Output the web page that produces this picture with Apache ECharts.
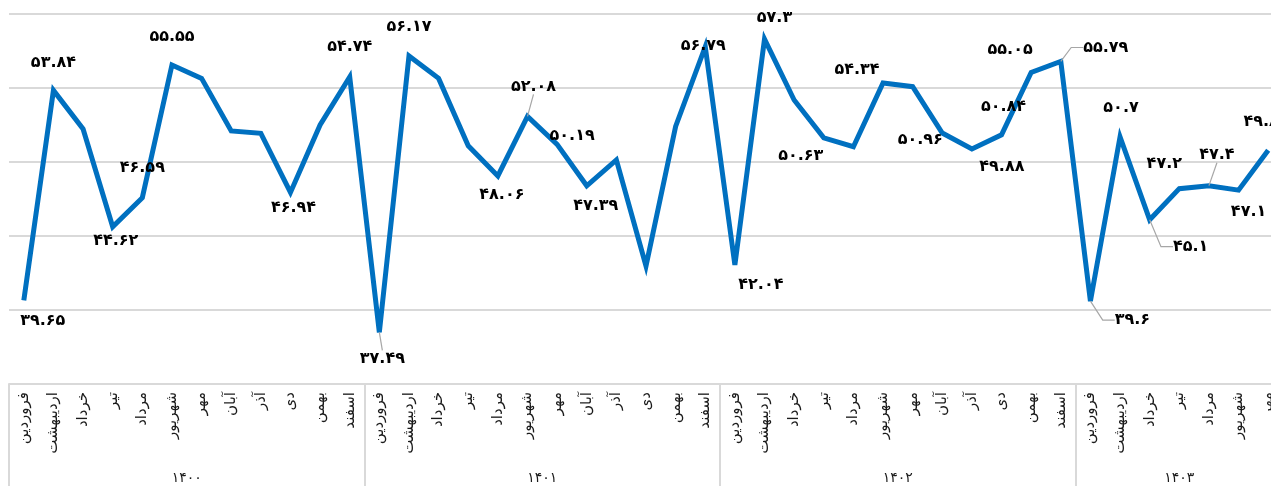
<!DOCTYPE html>
<html lang="fa">
<head>
<meta charset="utf-8">
<title>شاخص ماهانه</title>
<script src="https://cdn.jsdelivr.net/npm/echarts@6/dist/echarts.min.js"></script>
<style>
  html, body { margin: 0; padding: 0; background: #ffffff; }
  #chart { width: 1271px; height: 486px; }
</style>
</head>
<body>
<div id="chart"></div>
<script>
// Month names (Persian calendar)
const months = ['فروردین', 'اردیبهشت', 'خرداد', 'تیر', 'مرداد', 'شهریور',
                'مهر', 'آبان', 'آذر', 'دی', 'بهمن', 'اسفند'];

// Years and the monthly values of each year
const years = ['۱۴۰۰', '۱۴۰۱', '۱۴۰۲', '۱۴۰۳'];
const values1400 = [39.65, 53.84, 51.23, 44.62, 46.59, 55.55, 54.65, 51.1, 50.94, 46.94, 51.5, 54.74];
const values1401 = [37.49, 56.17, 54.65, 50.1, 48.06, 52.08, 50.19, 47.39, 49.14, 41.97, 51.4, 56.79];
const values1402 = [42.04, 57.3, 53.19, 50.63, 50.03, 54.34, 54.09, 50.96, 49.88, 50.84, 55.05, 55.79];
const values1403 = [39.6, 50.7, 45.1, 47.2, 47.4, 47.1, 49.8];

// Value axis range
const yMin = 34, yMax = 59, yStep = 5;

const perYear = [values1400, values1401, values1402, values1403];
const categories = [];
const series = [];
perYear.forEach(vals => {
  vals.forEach((v, i) => { categories.push(months[i]); series.push(v); });
});

// Boundaries and centres of each year group (in category units)
const bounds = [0];
perYear.forEach(vals => bounds.push(bounds[bounds.length - 1] + vals.length));
const yearCentres = perYear.map((vals, k) => bounds[k] + vals.length / 2);

// Persian digits for the labels
const faDigits = '۰۱۲۳۴۵۶۷۸۹';
const toFa = v => String(v).replace(/\d/g, d => faDigits[d]);

// Where each value label sits relative to its point (dx, dy); unlisted points are unlabelled
const labelPlacement = {
  0: [19, 20], 1: [0, -28], 3: [3, 14], 4: [0, -30], 5: [0, -28], 9: [3, 15], 11: [0, -30],
  12: [3, 26], 13: [0, -29], 16: [4, 19], 17: [6, -30], 18: [15, -9], 19: [9, 20], 23: [-2, -1],
  24: [26, 20], 25: [10, -21], 27: [-23, 18], 29: [-26, -13], 31: [-22, 7], 32: [30, 18],
  33: [2, -28], 34: [-21, -23], 35: [45, -14], 36: [42, 19], 37: [1, -29], 38: [41, 27],
  39: [-15, -25], 40: [8, -31], 41: [10, 22], 42: [-7, -28]
};
// Labels joined to their point by a thin guide line (with the length of its last leg)
const leaderLeg = { 12: 0, 17: 0, 35: 12, 36: 12, 38: 12, 40: 0 };

const seriesData = series.map((v, i) => ({
  value: v,
  label: { show: i in labelPlacement },
  labelLine: i in leaderLeg
    ? { show: true, length2: leaderLeg[i] }
    : { show: false }
}));

const chart = echarts.init(document.getElementById('chart'), null, { renderer: 'canvas' });

// The plot runs a little past the right edge of the page
chart.setOption({
  animation: false,
  backgroundColor: '#ffffff',
  grid: {
    left: 9, top: 14, width: 1274, height: 370,
    outerBoundsMode: 'none'
  },
  xAxis: [
    {
      type: 'category',
      data: categories,
      position: 'bottom',
      boundaryGap: true,
      axisLine: { show: true, lineStyle: { color: '#d9d9d9', width: 2 } },
      axisTick: { show: false },
      axisLabel: {
        interval: 0,
        rotate: 90,
        margin: 8,
        fontFamily: 'DejaVu Sans',
        fontSize: 15,
        color: '#1a1a1a'
      },
      splitLine: { show: false }
    },
    {
      type: 'value',
      min: 0,
      max: bounds[bounds.length - 1],
      position: 'bottom',
      axisLine: { show: false },
      axisTick: {
        show: true,
        inside: false,
        length: 103,
        customValues: bounds.slice(0, -1),
        lineStyle: { color: '#d9d9d9', width: 2 }
      },
      axisLabel: {
        show: true,
        margin: 87,
        customValues: yearCentres,
        formatter: v => years[yearCentres.indexOf(v)] || '',
        fontFamily: 'DejaVu Sans',
        fontSize: 14,
        color: '#1a1a1a'
      },
      splitLine: { show: false }
    }
  ],
  yAxis: {
    type: 'value',
    min: yMin,
    max: yMax,
    interval: yStep,
    axisLine: { show: false },
    axisTick: { show: false },
    axisLabel: { show: false },
    splitLine: { show: true, lineStyle: { color: '#d9d9d9', width: 2 } }
  },
  series: [
    {
      type: 'line',
      xAxisIndex: 0,
      data: seriesData,
      symbol: 'circle',
      symbolSize: 0.1,
      showSymbol: true,
      itemStyle: { color: '#0070C0' },
      lineStyle: { color: '#0070C0', width: 5, join: 'miter', miterLimit: 6 },
      label: {
        position: 'inside',
        align: 'center',
        verticalAlign: 'middle',
        fontFamily: 'DejaVu Sans',
        fontWeight: 'bold',
        fontSize: 16,
        color: '#000000',
        formatter: p => toFa(p.value)
      },
      labelLine: {
        lineStyle: { color: '#a6a6a6', width: 1.2 }
      },
      labelLayout: params => {
        const o = labelPlacement[params.dataIndex];
        return o ? { dx: o[0], dy: o[1] } : {};
      },
      z: 3
    }
  ]
});
</script>
</body>
</html>
